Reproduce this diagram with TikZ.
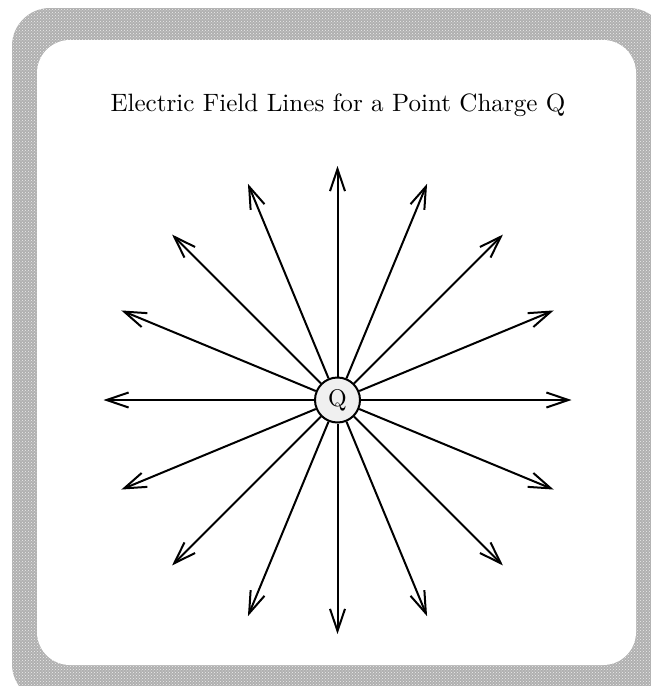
\documentclass[tikz,border=0pt]{standalone}
\usetikzlibrary{arrows.meta,patterns,calc}
\begin{document}
\begin{tikzpicture}[x=1pt,y=-1pt,
  fieldline/.style={line width=2pt,-{Straight Barb[length=22pt,width=15pt]}},
  charge/.style={circle,draw,line width=2pt,fill=gray!12,minimum size=45pt,inner sep=0pt},
  frameback/.style={fill=gray!62,rounded corners=38pt},
  framedots/.style={pattern=crosshatch dots,pattern color=gray!15,rounded corners=38pt}]
\useasboundingbox (0,0) rectangle (651,686);
\clip (0,0) rectangle (651,686);
\fill[frameback] (12,8) rectangle (667,702);
\fill[framedots] (12,8) rectangle (667,702);
\fill[white,rounded corners=33pt] (37,40) rectangle (636,665);
\node[scale=2.51,anchor=base] (title) at (338,111) {Electric Field Lines for a Point Charge Q};
\node[charge] (Q) at (337.5,400) {\scalebox{2.4}{Q}};
\foreach \i in {0,...,15}{
  \coordinate (t\i) at ($(Q.center)+(\i*22.5:234)$);
  \draw[fieldline] (Q) -- (t\i);
}
\end{tikzpicture}
\end{document}
